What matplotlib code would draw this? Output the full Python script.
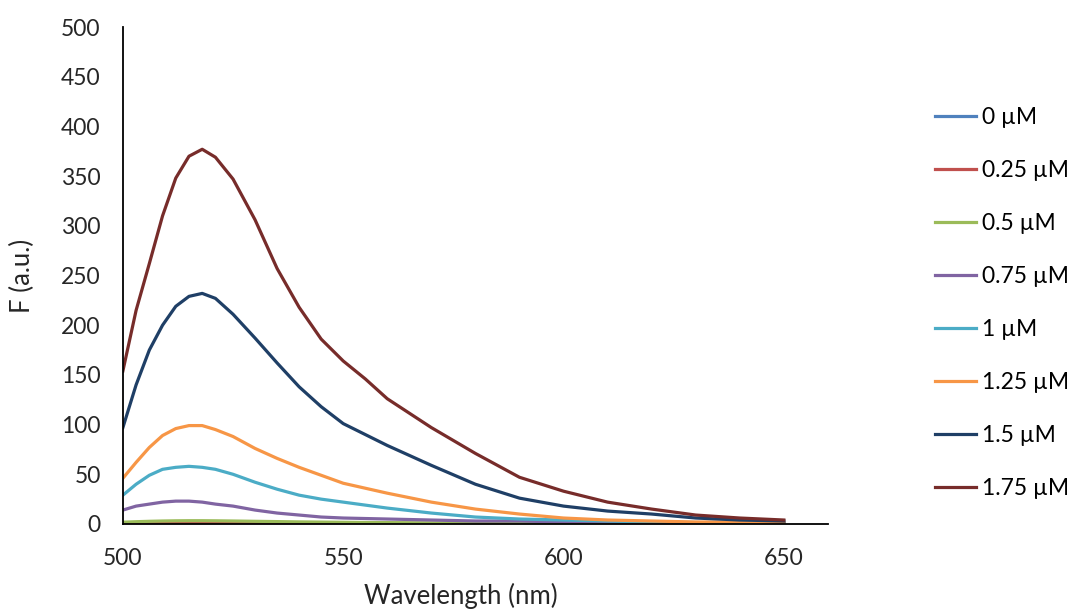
import matplotlib
matplotlib.use("Agg")
import matplotlib.pyplot as plt

wavelength = [500, 503, 506, 509, 512, 515, 518, 521, 525, 530, 535, 540, 545,
              550, 555, 560, 570, 580, 590, 600, 610, 620, 630, 640, 650]

f_0 = [0.5, 0.6, 0.7, 0.8, 0.8, 0.8, 0.8, 0.8, 0.7, 0.7, 0.6, 0.6, 0.5,
       0.5, 0.5, 0.4, 0.4, 0.3, 0.3, 0.3, 0.2, 0.2, 0.2, 0.2, 0.2]
f_025 = [0.8, 1.0, 1.1, 1.2, 1.3, 1.3, 1.3, 1.3, 1.2, 1.1, 1.0, 0.9, 0.8,
         0.8, 0.7, 0.6, 0.5, 0.5, 0.4, 0.4, 0.3, 0.3, 0.3, 0.2, 0.2]
f_05 = [1.8, 2.3, 2.7, 3.0, 3.2, 3.3, 3.3, 3.2, 3.0, 2.7, 2.4, 2.1, 1.9,
        1.7, 1.5, 1.4, 1.1, 0.9, 0.8, 0.7, 0.6, 0.5, 0.4, 0.4, 0.3]
f_075 = [14, 18, 20, 22, 23, 23, 22, 20, 18, 14, 11, 9, 7,
         6, 5.5, 5, 4, 3, 3, 2, 2, 1.5, 1, 1, 1]
f_1 = [29, 40, 49, 55, 57, 58, 57, 55, 50, 42, 35, 29, 25,
       22, 19, 16, 11, 7, 5, 4, 3, 2, 1.5, 1, 1]
f_125 = [46, 62, 77, 89, 96, 99, 99, 95, 88, 76, 66, 57, 49,
         41, 36, 31, 22, 15, 10, 6, 4, 3, 2, 2, 1]
f_15 = [97, 140, 175, 200, 219, 229, 232, 227, 211, 187, 162, 138, 118,
        101, 90, 79, 59, 40, 26, 18, 13, 10, 6, 4, 3]
f_175 = [154, 215, 262, 310, 348, 370, 377, 369, 347, 306, 257, 218, 186,
         164, 146, 126, 97, 71, 47, 33, 22, 15, 9, 6, 4]

labels = ["0 µM", "0.25 µM", "0.5 µM", "0.75 µM", "1 µM", "1.25 µM", "1.5 µM", "1.75 µM"]
series = [f_0, f_025, f_05, f_075, f_1, f_125, f_15, f_175]
colors = ["#4F81BD", "#C0504D", "#9BBB59", "#8064A2", "#4BACC6", "#F79646", "#1F3F66", "#772C2A"]

plt.rcParams["font.family"] = ["Lato", "DejaVu Sans"]

fig = plt.figure(figsize=(10.78, 6.14), dpi=100)
ax = fig.add_axes([0.114, 0.1466, 0.654, 0.8094])

for vals, lab, col in zip(series, labels, colors):
    ax.plot(wavelength, vals, color=col, lw=2.3, label=lab,
            solid_joinstyle="round")

ax.set_xlim(500, 660)
ax.set_ylim(0, 500)
ax.set_xticks([500, 550, 600, 650])
ax.set_yticks(range(0, 501, 50))
ax.tick_params(length=0, labelsize=16.5, colors="#262626", pad=16)
ax.tick_params(axis="x", pad=17)

for side in ["top", "right"]:
    ax.spines[side].set_visible(False)
for side in ["left", "bottom"]:
    ax.spines[side].set_color("black")
    ax.spines[side].set_linewidth(1.3)

ax.set_xlabel("Wavelength (nm)", fontsize=18.5, color="#262626")
ax.set_ylabel("F (a.u.)", fontsize=18.5, color="#262626")
ax.xaxis.set_label_coords(0.48, -0.118)
ax.yaxis.set_label_coords(-0.124, 0.5)

fig.legend(loc="upper left", bbox_to_anchor=(0.867, 0.826), frameon=False,
           fontsize=16.5, handlelength=1.8, handletextpad=0.25,
           labelspacing=1.4, borderpad=0, borderaxespad=0)

fig.savefig("out.png", dpi=100)
